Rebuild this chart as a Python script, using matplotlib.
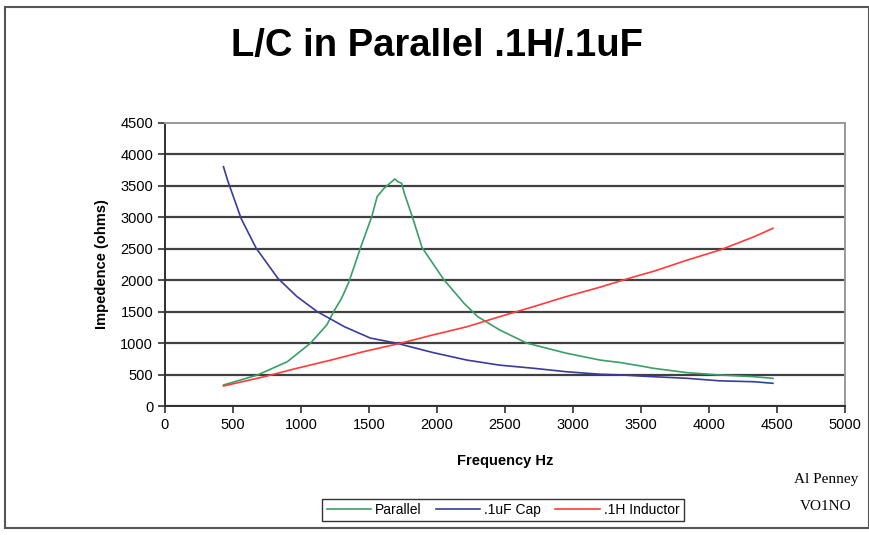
import matplotlib
matplotlib.use('Agg')
import matplotlib.pyplot as plt
from matplotlib.patches import Rectangle

# measured impedance readings (ohms) vs frequency (Hz)
par_f = [430, 680, 900, 1070, 1190, 1240, 1300, 1350, 1440, 1520, 1560, 1610,
         1690, 1710, 1740, 1760, 1820, 1890, 2050, 2200, 2300, 2460, 2660, 2950,
         3200, 3350, 3500, 3590, 3840, 4080, 4330, 4470]
par_z = [334, 493, 705, 1000, 1290, 1500, 1720, 1960, 2530, 3010, 3330, 3460,
         3610, 3570, 3540, 3380, 3000, 2520, 2010, 1630, 1420, 1210, 1000, 840,
         730, 690, 636, 600, 530, 493, 466, 440]

cap_f = [430, 460, 560, 670, 830, 970, 1120, 1320, 1510, 1700, 1970, 2220,
         2460, 2710, 2950, 3200, 3350, 3490, 3590, 3840, 4080, 4330, 4470]
cap_z = [3805, 3590, 2980, 2510, 2030, 1740, 1500, 1260, 1080, 1000, 850, 730,
         650, 600, 545, 505, 495, 477, 466, 440, 400, 386, 361]

ind_f = [430, 730, 970, 1220, 1460, 1730, 1970, 2220, 2460, 2710, 2950, 3200,
         3350, 3490, 3590, 3840, 4080, 4330, 4470]
ind_z = [318, 466, 600, 730, 864, 997, 1130, 1260, 1420, 1580, 1740, 1890,
         1990, 2080, 2140, 2320, 2480, 2690, 2825]

x_ticks = list(range(0, 5001, 500))
y_ticks = list(range(0, 4501, 500))

plt.rcParams['font.family'] = ['Liberation Sans', 'DejaVu Sans']

fig = plt.figure(figsize=(8.7, 5.35), dpi=100)
fig.patches.append(Rectangle((5 / 870, 7 / 535), 864 / 870, 521 / 535,
                             transform=fig.transFigure, fill=False,
                             edgecolor='#555555', linewidth=1.5))

ax = fig.add_axes([165 / 870, 1 - 406 / 535, 680 / 870, 283 / 535])

l1, = ax.plot(par_f, par_z, color='#3a9e68', lw=1.2, label='Parallel')
l2, = ax.plot(cap_f, cap_z, color='#3b3b9e', lw=1.2, label='.1uF Cap')
l3, = ax.plot(ind_f, ind_z, color='#ff3b3b', lw=1.2, label='.1H Inductor')

ax.set_xlim(0, 5000)
ax.set_ylim(0, 4500)
ax.set_xticks(x_ticks)
ax.set_yticks(y_ticks)
ax.tick_params(labelsize=10.5, length=5, width=1.2, color='#303030')
ax.yaxis.grid(True, color='#404040', lw=1.6)
ax.set_axisbelow(True)
for g in ax.get_ygridlines()[-1:]:
    g.set_visible(False)

for s in ['left', 'bottom']:
    ax.spines[s].set_color('#303030')
    ax.spines[s].set_linewidth(1.4)
for s in ['top', 'right']:
    ax.spines[s].set_color('#999999')
    ax.spines[s].set_linewidth(1.4)

ax.set_xlabel('Frequency Hz', fontsize=10.5, fontweight='bold', labelpad=16)
ax.set_ylabel('Impedence (ohms)', fontsize=10.5, fontweight='bold', labelpad=8)

fig.text(0.502, 1 - 46 / 535, 'L/C in Parallel .1H/.1uF', ha='center', va='center',
         fontsize=27.5, fontweight='bold')

fig.legend(handles=[l1, l2, l3], loc='center', bbox_to_anchor=(503 / 870, 1 - 510 / 535),
           ncol=3, frameon=True, fancybox=False, edgecolor='black', fontsize=10,
           handlelength=3.2, handletextpad=0.3, columnspacing=1.0,
           borderpad=0.3, borderaxespad=0)

fig.text(826 / 870, 1 - 480 / 535, 'Al Penney', ha='center', va='center',
         fontsize=11, family='Liberation Serif')
fig.text(826 / 870, 1 - 506 / 535, 'VO1NO', ha='center', va='center',
         fontsize=11, family='Liberation Serif')

fig.savefig('out.png', dpi=100)
